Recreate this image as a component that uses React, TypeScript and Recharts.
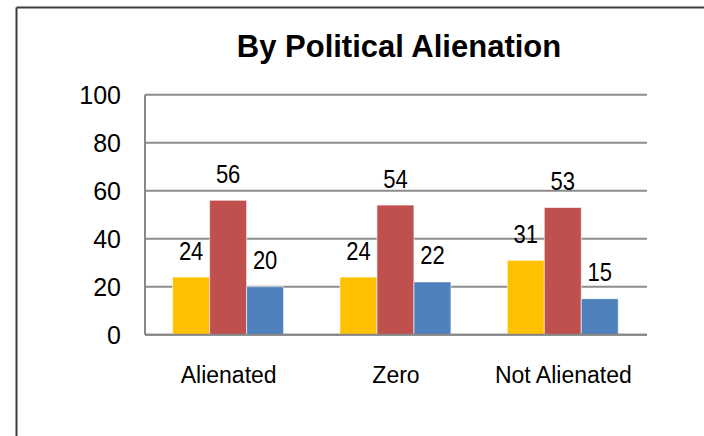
import React from "react";
import { BarChart, Bar, XAxis, YAxis, CartesianGrid, LabelList } from "recharts";

const categories = ["Alienated", "Zero", "Not Alienated"];
const yellowValues = [24, 24, 31];
const redValues = [56, 54, 53];
const blueValues = [20, 22, 15];
const yTicks = [0, 20, 40, 60, 80, 100];
const title = "By Political Alienation";

const data = categories.map((c, i) => ({
  category: c,
  s1: yellowValues[i],
  s2: redValues[i],
  s3: blueValues[i],
}));

const NarrowLabel = (props: any) => {
  const { x, y, width, value } = props;
  const cx = Number(x) + Number(width) / 2;
  const cy = Number(y) - 17.5;
  return (
    <text
      transform={`translate(${cx},${cy}) scale(0.88,1)`}
      x={0}
      y={0}
      textAnchor="middle"
      fontFamily="'Liberation Sans', Arial, sans-serif"
      fontSize={25}
      fill="#000"
    >
      {value}
    </text>
  );
};

export default function App() {
  return (
    <div style={{ position: "absolute", left: 0, top: 0, width: 704, height: 436, background: "#fff" }}>
      <BarChart
        width={704}
        height={436}
        data={data}
        margin={{ top: 94.7, right: 57, bottom: 41.3, left: 85 }}
        barCategoryGap="16.5%"
        barGap={0}
      >
        <CartesianGrid vertical={false} stroke="#8c8c8c" strokeWidth={2} />
        <XAxis
          dataKey="category"
          height={60}
          tickLine={false}
          tickSize={0}
          tickMargin={31.7}
          axisLine={{ stroke: "#878787", strokeWidth: 2 }}
          tick={{ fill: "#000", fontSize: 23, fontFamily: "'Liberation Sans', Arial, sans-serif" }}
        />
        <YAxis
          width={60}
          domain={[0, 100]}
          ticks={yTicks}
          interval={0}
          tickLine={false}
          tickSize={0}
          tickMargin={24}
          axisLine={{ stroke: "#878787", strokeWidth: 2 }}
          tick={{ fill: "#000", fontSize: 25, fontFamily: "'Liberation Sans', Arial, sans-serif" }}
        />
        <Bar dataKey="s1" fill="#FFC000" stroke="#ffffff" strokeOpacity={0.6} strokeWidth={1} isAnimationActive={false}>
          <LabelList dataKey="s1" content={NarrowLabel} />
        </Bar>
        <Bar dataKey="s2" fill="#C0504D" stroke="#ffffff" strokeOpacity={0.6} strokeWidth={1} isAnimationActive={false}>
          <LabelList dataKey="s2" content={NarrowLabel} />
        </Bar>
        <Bar dataKey="s3" fill="#4F81BD" stroke="#ffffff" strokeOpacity={0.6} strokeWidth={1} isAnimationActive={false}>
          <LabelList dataKey="s3" content={NarrowLabel} />
        </Bar>
      </BarChart>
      <svg
        width={704}
        height={436}
        style={{ position: "absolute", left: 0, top: 0, pointerEvents: "none" }}
      >
        <line x1={16.5} y1={7.5} x2={704} y2={7.5} stroke="#3c3c3c" strokeWidth={2} />
        <line x1={16.5} y1={7.5} x2={16.5} y2={436} stroke="#3c3c3c" strokeWidth={2} />
        <text
          x={399}
          y={56.7}
          textAnchor="middle"
          fontFamily="'Liberation Sans', Arial, sans-serif"
          fontWeight="bold"
          fontSize={31}
          fill="#000"
        >
          {title}
        </text>
      </svg>
    </div>
  );
}
